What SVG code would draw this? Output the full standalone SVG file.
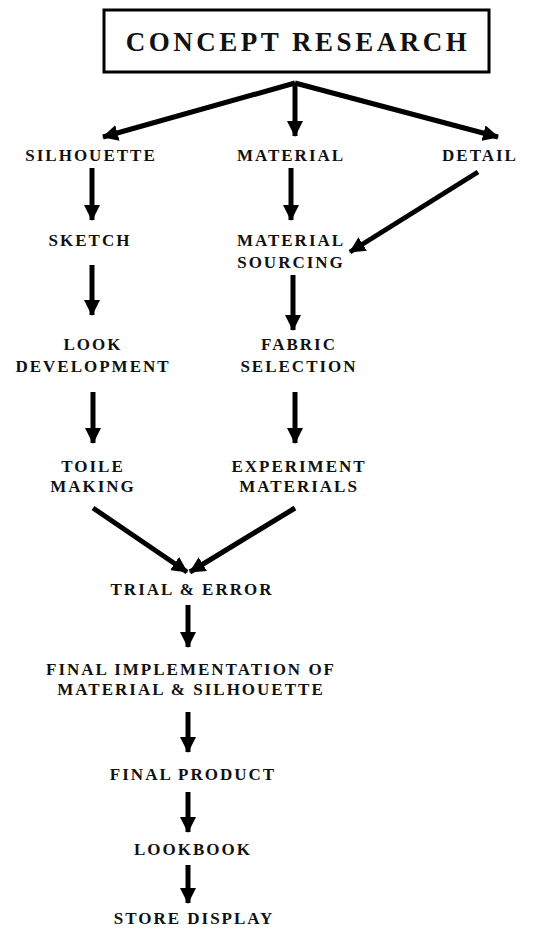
<svg xmlns="http://www.w3.org/2000/svg" width="536" height="929" viewBox="0 0 536 929">
<style>
.t{font-family:"Liberation Serif","Times New Roman",serif;font-weight:bold;font-size:17px;letter-spacing:2px;fill:#111;text-anchor:middle}
.title{font-family:"Liberation Serif","Times New Roman",serif;font-weight:bold;font-size:27px;letter-spacing:3.5px;fill:#111;text-anchor:middle}
.c{stroke:#000;stroke-width:5;fill:none;marker-end:url(#ah)}
</style>
<defs>
<marker id="ah" viewBox="0 0 16 16" markerWidth="16" markerHeight="16" refX="15" refY="8" orient="auto" markerUnits="userSpaceOnUse">
<path d="M0,0 L16,8 L0,16 z" fill="#000"/>
</marker>
</defs>
<rect width="536" height="929" fill="#fff"/>
<g id="concept-research">
<rect x="104" y="10" width="385" height="62" fill="#fff" stroke="#000" stroke-width="3"/>
<text class="title" x="298" y="51">CONCEPT RESEARCH</text>
</g>
<g id="silhouette"><text class="t" x="91" y="161">SILHOUETTE</text></g>
<g id="material"><text class="t" x="291" y="161">MATERIAL</text></g>
<g id="detail"><text class="t" x="480" y="161">DETAIL</text></g>
<g id="sketch"><text class="t" x="90" y="246">SKETCH</text></g>
<g id="material-sourcing"><text class="t" x="291" y="246">MATERIAL</text><text class="t" x="291" y="268">SOURCING</text></g>
<g id="look-development"><text class="t" x="93" y="350">LOOK</text><text class="t" x="93" y="372">DEVELOPMENT</text></g>
<g id="fabric-selection"><text class="t" x="299" y="350">FABRIC</text><text class="t" x="299" y="372">SELECTION</text></g>
<g id="toile-making"><text class="t" x="93" y="472">TOILE</text><text class="t" x="93" y="492">MAKING</text></g>
<g id="experiment-materials"><text class="t" x="299" y="472">EXPERIMENT</text><text class="t" x="299" y="492">MATERIALS</text></g>
<g id="trial-error"><text class="t" x="192" y="595">TRIAL &amp; ERROR</text></g>
<g id="final-implementation"><text class="t" x="191" y="675">FINAL IMPLEMENTATION OF</text><text class="t" x="191" y="695">MATERIAL &amp; SILHOUETTE</text></g>
<g id="final-product"><text class="t" x="193" y="780">FINAL PRODUCT</text></g>
<g id="lookbook"><text class="t" x="193" y="855">LOOKBOOK</text></g>
<g id="store-display"><text class="t" x="194" y="924">STORE DISPLAY</text></g>
<g id="connectors">
<line class="c" x1="295" y1="83" x2="103" y2="137"/>
<line class="c" x1="295" y1="83" x2="295" y2="136"/>
<line class="c" x1="295" y1="83" x2="498" y2="137"/>
<line class="c" x1="92" y1="168" x2="92" y2="220"/>
<line class="c" x1="291" y1="168" x2="291" y2="220"/>
<line class="c" x1="478" y1="172" x2="350" y2="252"/>
<line class="c" x1="92" y1="265" x2="92" y2="315"/>
<line class="c" x1="293" y1="275" x2="293" y2="330"/>
<line class="c" x1="93" y1="392" x2="93" y2="443"/>
<line class="c" x1="295" y1="392" x2="295" y2="443"/>
<line class="c" x1="93" y1="508" x2="187" y2="572"/>
<line class="c" x1="295" y1="508" x2="190" y2="572"/>
<line class="c" x1="188" y1="605" x2="188" y2="647"/>
<line class="c" x1="188" y1="712" x2="188" y2="752"/>
<line class="c" x1="188" y1="792" x2="188" y2="832"/>
<line class="c" x1="188" y1="865" x2="188" y2="903"/>
</g>
</svg>
